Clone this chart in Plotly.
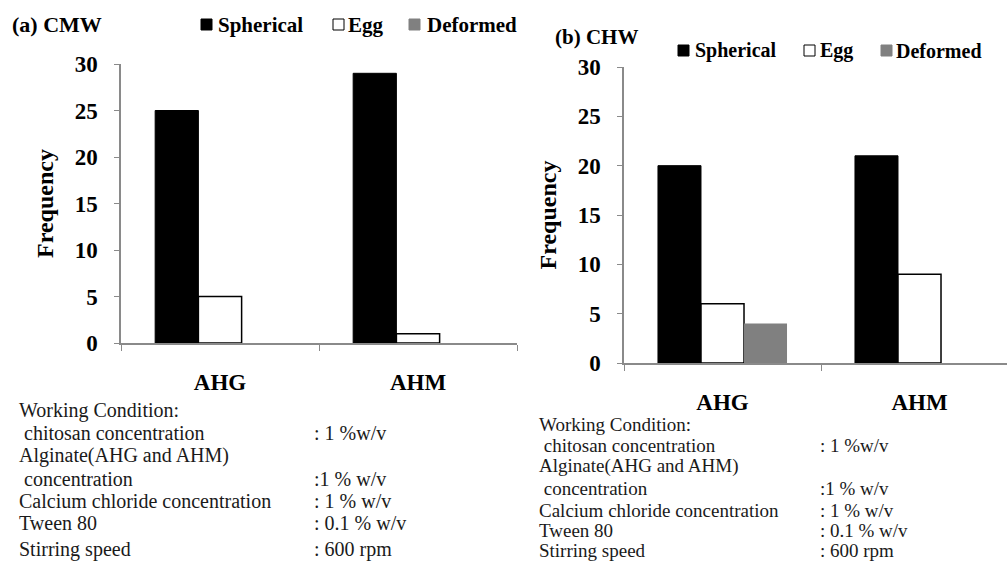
import plotly.graph_objects as go

W, H = 1007, 565

# Bead shape frequencies for each alginate type
categories = ["AHG", "AHM"]
series_names = ["Spherical", "Egg", "Deformed"]
cmw_values = {"Spherical": [25, 29], "Egg": [5, 1], "Deformed": [0, 0]}
chw_values = {"Spherical": [20, 21], "Egg": [6, 9], "Deformed": [4, 0]}
y_ticks = [0, 5, 10, 15, 20, 25, 30]

condition_labels = [
    "Working Condition:",
    " chitosan concentration",
    "Alginate(AHG and AHM)",
    " concentration",
    "Calcium chloride concentration",
    "Tween 80",
    "Stirring speed",
]
condition_values = ["", ": 1 %w/v", "", ":1 % w/v", ": 1 % w/v", ": 0.1 % w/v", ": 600 rpm"]

styles = {
    "Spherical": dict(color="black", line=dict(color="black", width=1)),
    "Egg": dict(color="white", line=dict(color="black", width=1.5)),
    "Deformed": dict(color="#808080", line=dict(color="#808080", width=0)),
}

SERIF = "Times New Roman, Liberation Serif, DejaVu Serif, serif"


def px_x(x):
    return x / W


def px_y(y):
    return 1 - y / H


fig = go.Figure()
for data, xa, ya in [(cmw_values, "x", "y"), (chw_values, "x2", "y2")]:
    for name in series_names:
        fig.add_trace(go.Bar(
            x=categories, y=data[name], name=name, marker=styles[name],
            xaxis=xa, yaxis=ya, showlegend=False,
        ))

axis_line = "#8a8a8a"
common_x = dict(
    type="category", showgrid=False, showline=True, linecolor=axis_line, linewidth=1.5,
    ticks="outside", tickson="boundaries", ticklen=6, tickcolor=axis_line,
    tickfont=dict(family=SERIF, size=23, color="black", weight="bold"),
    ticklabelstandoff=18, zeroline=False, automargin=False,
)
common_y = dict(
    range=[0, 30], tickvals=y_ticks, showgrid=False, showline=True, linecolor=axis_line,
    linewidth=1.5, ticks="outside", ticklen=5, tickcolor=axis_line,
    tickfont=dict(family=SERIF, size=23, color="black", weight="bold"),
    ticklabelstandoff=12, zeroline=False, automargin=False,
    title=dict(text="Frequency", font=dict(family=SERIF, size=24, color="black", weight="bold"),
               standoff=14),
)

fig.update_layout(
    width=W, height=H, autosize=False, margin=dict(l=0, r=0, t=0, b=0, pad=0, autoexpand=False),
    paper_bgcolor="white", plot_bgcolor="white",
    barmode="group", bargap=0.345, bargroupgap=0,
    xaxis=dict(common_x, domain=[px_x(121), px_x(517)], range=[-0.5, 1.5], anchor="y"),
    yaxis=dict(common_y, domain=[px_y(343), px_y(64)], anchor="x"),
    xaxis2=dict(common_x, domain=[px_x(624), 1.0],
                range=[-0.5, (W - 624) / 197 - 0.5], anchor="y2"),
    yaxis2=dict(common_y, domain=[px_y(363), px_y(67)], anchor="x2"),
)

annotations = []
shapes = []

# Panel titles
for text, x, y, size in [("(a) CMW", 10, 24, 22), ("(b) CHW", 553, 37, 21)]:
    annotations.append(dict(
        text=text, x=px_x(x), y=px_y(y), xref="paper", yref="paper",
        xanchor="left", yanchor="middle", showarrow=False,
        font=dict(family=SERIF, size=size, color="black", weight="bold"),
    ))

# Legend rows (swatch left edge, label left edge) per series
legend_rows = [
    (25, 21, {"Spherical": (201, 216), "Egg": (333, 346), "Deformed": (409, 425)}),
    (51, 20, {"Spherical": (678, 693), "Egg": (804, 818), "Deformed": (881, 894)}),
]
for yc, size, entries in legend_rows:
    for name in series_names:
        sx, tx = entries[name]
        st = styles[name]
        shapes.append(dict(
            type="rect", xref="paper", yref="paper",
            x0=px_x(sx), x1=px_x(sx + 11), y0=px_y(yc + 5), y1=px_y(yc - 6),
            fillcolor=st["color"],
            line=dict(color="black" if name != "Deformed" else "#808080", width=1),
        ))
        annotations.append(dict(
            text=name, x=px_x(tx), y=px_y(yc), xref="paper", yref="paper",
            xanchor="left", yanchor="middle", showarrow=False,
            font=dict(family=SERIF, size=size, color="black", weight="bold"),
        ))

# Working condition blocks
blocks = [
    (17, 312, 20, [410, 433, 455, 479, 501, 523, 549]),
    (537, 818, 19, [424, 445, 466, 489, 510, 530, 550]),
]
for x_lab, x_val, size, ys in blocks:
    for lab, val, y in zip(condition_labels, condition_values, ys):
        annotations.append(dict(
            text=lab.replace(" ", "&nbsp;", 1) if lab.startswith(" ") else lab,
            x=px_x(x_lab), y=px_y(y), xref="paper", yref="paper",
            xanchor="left", yanchor="middle", showarrow=False,
            font=dict(family=SERIF, size=size, color="#1a1a1a"),
        ))
        if val:
            annotations.append(dict(
                text=val, x=px_x(x_val), y=px_y(y), xref="paper", yref="paper",
                xanchor="left", yanchor="middle", showarrow=False,
                font=dict(family=SERIF, size=size, color="#1a1a1a"),
            ))

fig.update_layout(annotations=annotations, shapes=shapes)
fig.write_html("out.html")
